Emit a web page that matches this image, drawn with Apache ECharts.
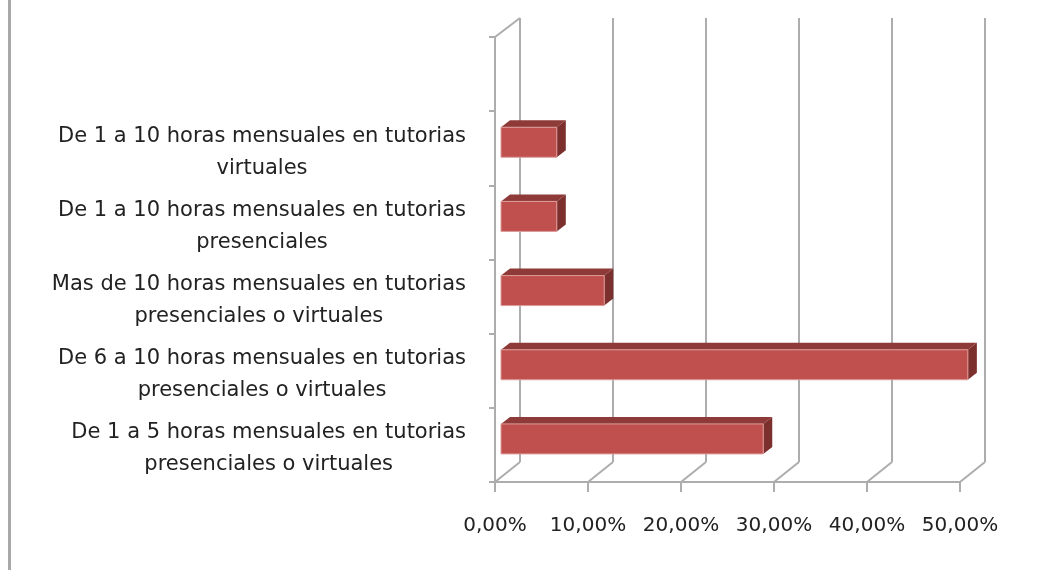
<!DOCTYPE html>
<html>
<head>
<meta charset="utf-8">
<style>
  html, body { margin: 0; padding: 0; background: #fff; }
  #chart { width: 1050px; height: 570px; }
</style>
<script src="https://cdn.jsdelivr.net/npm/echarts@6/dist/echarts.min.js"></script>
</head>
<body>
<div id="chart"></div>
<script>
// bottom to top, the top band of the chart is empty
const categories = [
  "De 1 a 5 horas mensuales en tutorias\npresenciales o virtuales",
  "De 6 a 10 horas mensuales en tutorias\npresenciales o virtuales",
  "Mas de 10 horas mensuales en tutorias\npresenciales o virtuales",
  "De 1 a 10 horas mensuales en tutorias\npresenciales",
  "De 1 a 10 horas mensuales en tutorias\nvirtuales",
  ""
];
const values = [28.2, 50.2, 11.1, 6.0, 6.0];
const xTicks = [0, 10, 20, 30, 40, 50];

const fontName = "'DejaVu Sans'";
const axisGray = "#adadad";

let chart = echarts.init(document.getElementById("chart"));

// fake 3D bar: front face, top face and side face
function renderBar(params, api) {
  let start = api.coord([0, api.value(1)]);
  let end = api.coord([api.value(0), api.value(1)]);
  let x0 = start[0] + 6;
  let x1 = end[0] + 6;
  let yMid = start[1] - 6;
  let y0 = yMid - 15;
  let y1 = yMid + 15;
  let dx = 9;
  let dy = 7;
  return {
    type: "group",
    children: [
      {
        type: "polygon",
        shape: { points: [[x0, y0], [x0 + dx, y0 - dy], [x1 + dx, y0 - dy], [x1, y0]] },
        style: { fill: "#8e3a38" }
      },
      {
        type: "polygon",
        shape: { points: [[x1, y0], [x1 + dx, y0 - dy], [x1 + dx, y1 - dy], [x1, y1]] },
        style: { fill: "#7c302e" }
      },
      {
        type: "rect",
        shape: { x: x0, y: y0, width: x1 - x0, height: y1 - y0 },
        style: { fill: "#c0504d", stroke: "#dc9c9a", lineWidth: 1 }
      }
    ]
  };
}

// floor diagonals from the front axis to the back wall
function renderFloor(params, api) {
  let p = api.coord([api.value(0), 0]);
  let bottom = params.coordSys.y + params.coordSys.height;
  return {
    type: "line",
    shape: { x1: p[0], y1: bottom, x2: p[0] + 25, y2: bottom - 20 },
    style: { stroke: axisGray, lineWidth: 2 }
  };
}

let option = {
  animation: false,
  backgroundColor: "#fff",
  graphic: [
    {
      type: "rect",
      shape: { x: 8, y: 0, width: 3, height: 570 },
      style: { fill: "#a8a8a8" }
    },
    {
      type: "line",
      shape: { x1: 495, y1: 37, x2: 520, y2: 18 },
      style: { stroke: axisGray, lineWidth: 2 }
    }
  ],
  grid: [
    { left: 495, top: 37, width: 465, height: 445 },
    { left: 520, top: 18, width: 465, height: 444 }
  ],
  xAxis: [
    {
      type: "value",
      gridIndex: 0,
      min: 0,
      max: 50,
      interval: 10,
      splitLine: { show: false },
      axisLine: { show: true, lineStyle: { color: axisGray, width: 2 } },
      axisTick: { show: true, length: 10, lineStyle: { color: axisGray, width: 2 } },
      axisLabel: {
        margin: 34,
        color: "#222",
        fontFamily: fontName,
        fontSize: 20,
        formatter: function(v) {
          return v.toFixed(2).replace(".", ",") + "%";
        }
      }
    },
    {
      type: "value",
      gridIndex: 1,
      min: 0,
      max: 50,
      interval: 10,
      axisLine: { show: false },
      axisTick: { show: false },
      axisLabel: { show: false },
      splitLine: { show: true, lineStyle: { color: axisGray, width: 2 } }
    }
  ],
  yAxis: [
    {
      type: "category",
      gridIndex: 0,
      data: categories,
      axisLine: { show: true, lineStyle: { color: axisGray, width: 2 } },
      axisTick: { show: true, length: 6, lineStyle: { color: axisGray, width: 2 } },
      axisLabel: {
        interval: 0,
        margin: 29,
        align: "right",
        padding: [8, 0, 0, 0],
        formatter: function(v) {
          if (!v) return "";
          return v.split("\n").map(function(s) {
            return "{c|" + s + "}";
          }).join("\n");
        },
        rich: {
          c: {
            align: "center",
            color: "#222",
            fontFamily: fontName,
            fontSize: 21,
            lineHeight: 32
          }
        }
      }
    },
    {
      type: "category",
      gridIndex: 1,
      data: categories,
      show: false
    }
  ],
  series: [
    {
      type: "custom",
      xAxisIndex: 0,
      yAxisIndex: 0,
      silent: true,
      z: 1,
      clip: false,
      encode: { x: 0, y: 1 },
      data: xTicks.map(function(t) { return [t, 0]; }),
      renderItem: renderFloor
    },
    {
      type: "custom",
      xAxisIndex: 0,
      yAxisIndex: 0,
      silent: true,
      z: 5,
      clip: false,
      encode: { x: 0, y: 1 },
      data: values.map(function(v, i) { return [v, i]; }),
      renderItem: renderBar
    }
  ]
};

chart.setOption(option);
</script>
</body>
</html>
